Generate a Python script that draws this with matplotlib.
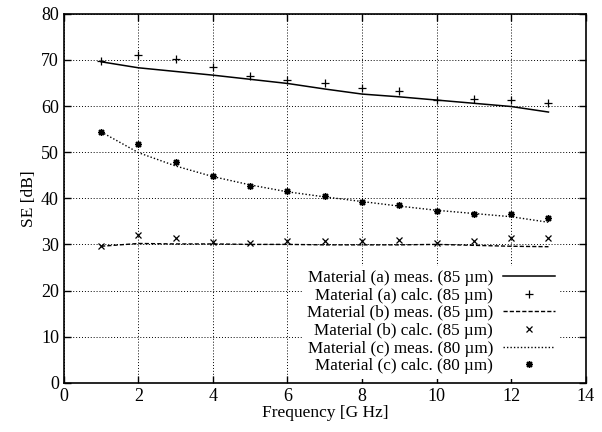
import numpy as np
import matplotlib
matplotlib.use("Agg")
import matplotlib.pyplot as plt

plt.rcParams['font.family'] = ['Liberation Serif', 'DejaVu Serif']

freq = [1, 2, 3, 4, 5, 6, 7, 8, 9, 10, 11, 12, 13]

# material (a)
a_meas = [69.6, 68.3, 67.5, 66.7, 65.8, 64.9, 63.7, 62.6, 62.0, 61.3, 60.6, 59.9, 58.7]
a_calc = [69.8, 71.0, 70.3, 68.5, 66.5, 65.6, 65.0, 63.9, 63.2, 61.4, 61.5, 61.3, 60.6]
# material (b)
b_meas = [29.6, 30.2, 30.1, 30.1, 30.0, 30.0, 29.9, 29.9, 29.9, 30.0, 29.8, 29.6, 29.5]
b_calc = [29.7, 32.0, 31.3, 30.6, 30.2, 30.8, 30.8, 30.8, 31.0, 30.3, 30.8, 31.4, 31.3]
# material (c)
c_meas = [54.4, 49.9, 47.0, 44.7, 42.9, 41.4, 40.3, 39.3, 38.3, 37.4, 36.7, 36.0, 34.8]
c_calc = [54.4, 51.7, 47.8, 44.8, 42.7, 41.6, 40.6, 39.3, 38.5, 37.2, 36.7, 36.5, 35.7]

fig = plt.figure(figsize=(6.02, 4.32), dpi=100)
ax = fig.add_axes([0.106, 0.114, 0.867, 0.854])

ax.plot(freq, a_meas, color='k', lw=1.1, label='Material (a) meas. (85 µm)')
ax.plot(freq, a_calc, ls='none', marker='+', ms=6, mew=0.9, color='k',
        label='Material (a) calc. (85 µm)')
ax.plot(freq, b_meas, color='k', lw=1.0, ls=(0, (3, 1.5)),
        label='Material (b) meas. (85 µm)')
ax.plot(freq, b_calc, ls='none', marker='x', ms=5, mew=0.9, color='k',
        label='Material (b) calc. (85 µm)')
ax.plot(freq, c_meas, color='k', lw=1.0, ls=(0, (1, 1.5)),
        label='Material (c) meas. (80 µm)')
ax.plot(freq, c_calc, ls='none', marker=(8, 2, 0), ms=5, mew=1.0, color='k',
        label='Material (c) calc. (80 µm)')

ax.set_xlim(0, 14)
ax.set_ylim(0, 80)
ax.set_xticks(np.arange(0, 15, 2))
ax.set_yticks(np.arange(0, 81, 10))
ax.grid(True, color='k', ls=(0, (1, 2)), lw=0.7)
ax.tick_params(direction='in', top=True, right=True, length=5, labelsize=13, width=1)
for s in ax.spines.values():
    s.set_linewidth(1.2)

ax.set_xlabel('Frequency [G Hz]', fontsize=12.5, labelpad=0)
ax.set_ylabel('SE [dB]', fontsize=12.5, labelpad=3)

leg = ax.legend(loc='lower right', bbox_to_anchor=(0.965, -0.012), markerfirst=False,
                fontsize=12.3, handlelength=3.0, handletextpad=0.6, labelspacing=0.1,
                borderpad=0.25, frameon=True, fancybox=False, edgecolor='none',
                framealpha=1.0)

fig.savefig('out.png', dpi=100)
